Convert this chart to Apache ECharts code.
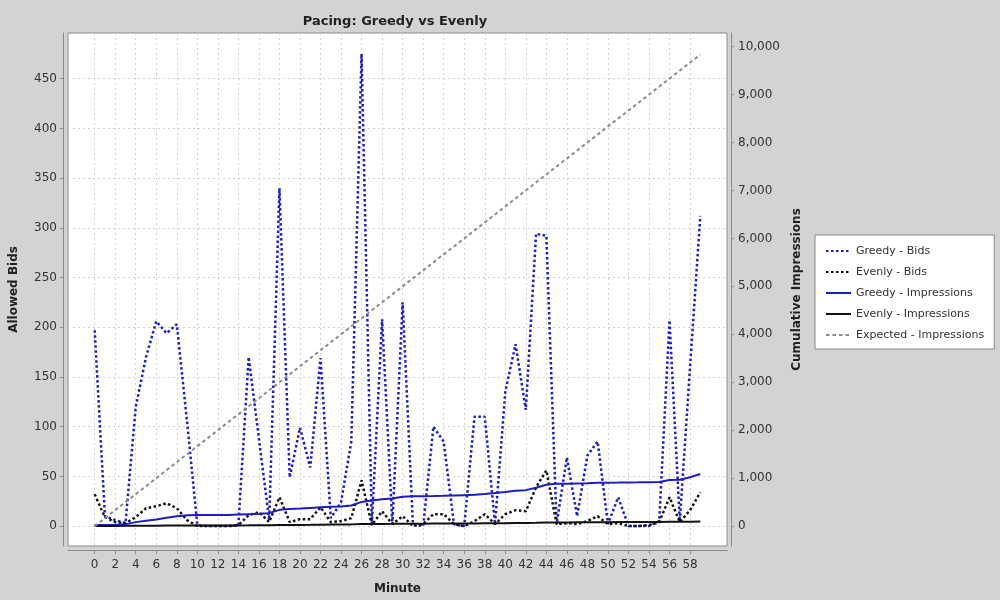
<!DOCTYPE html>
<html>
<head>
<meta charset="utf-8">
<title>Pacing: Greedy vs Evenly</title>
<script src="https://cdn.jsdelivr.net/npm/echarts@6/dist/echarts.min.js"></script>
<style>
  html, body { margin: 0; padding: 0; background: #d3d3d3; }
  #chart { width: 1000px; height: 600px; }
</style>
</head>
<body>
<div id="chart"></div>
<script>
// minute index (x axis)
const minutes = [0, 1, 2, 3, 4, 5, 6, 7, 8, 9, 10, 11, 12, 13, 14, 15, 16, 17, 18, 19,
  20, 21, 22, 23, 24, 25, 26, 27, 28, 29, 30, 31, 32, 33, 34, 35, 36, 37, 38, 39,
  40, 41, 42, 43, 44, 45, 46, 47, 48, 49, 50, 51, 52, 53, 54, 55, 56, 57, 58, 59];

// allowed bids per minute (left axis)
const greedyBids = [197, 10, 6, 3, 120, 170, 206, 194, 203, 105, 1, 0, 0, 0, 1, 170, 88, 6, 340, 49,
  99, 59, 169, 8, 24, 85, 475, 2, 208, 2, 225, 2, 0, 100, 85, 2, 0, 110, 110, 2,
  135, 183, 117, 294, 292, 2, 69, 10, 71, 85, 2, 29, 0, 0, 0, 5, 207, 5, 160, 312];
const evenlyBids = [32, 9, 4, 3, 9, 18, 20, 23, 18, 6, 0, 0, 0, 0, 1, 11, 14, 4, 29, 4,
  7, 7, 19, 4, 5, 8, 46, 1, 15, 2, 10, 0, 2, 12, 12, 2, 0, 5, 12, 2,
  12, 16, 15, 39, 56, 2, 3, 2, 5, 10, 2, 3, 0, 0, 1, 4, 29, 4, 16, 34];

// cumulative impressions (right axis)
const greedyImpr = [21, 22, 24, 41, 83, 111, 138, 173, 207, 228, 230, 230, 232, 234, 242, 249, 256, 270, 339, 359,
  366, 380, 394, 401, 408, 430, 505, 532, 560, 575, 611, 625, 625, 628, 632, 639, 646, 653, 667, 688,
  712, 737, 750, 799, 862, 883, 883, 890, 896, 903, 905, 907, 910, 912, 915, 919, 962, 965, 1020, 1085];
const evenlyImpr = [0, 2, 4, 5, 7, 8, 9, 10, 11, 12, 12, 13, 13, 14, 15, 16, 18, 19, 22, 23,
  24, 26, 30, 32, 34, 36, 42, 44, 46, 47, 49, 50, 51, 52, 53, 54, 55, 56, 58, 59,
  61, 64, 66, 69, 75, 76, 77, 78, 79, 81, 82, 83, 84, 84, 85, 86, 90, 91, 93, 97];
const expectedImpr = [0, 167, 333, 500, 667, 833, 1000, 1167, 1333, 1500, 1667, 1833, 2000, 2167, 2333, 2500, 2667, 2833, 3000, 3167,
  3333, 3500, 3667, 3833, 4000, 4167, 4333, 4500, 4667, 4833, 5000, 5167, 5333, 5500, 5667, 5833, 6000, 6167, 6333, 6500,
  6667, 6833, 7000, 7167, 7333, 7500, 7667, 7833, 8000, 8167, 8333, 8500, 8667, 8833, 9000, 9167, 9333, 9500, 9667, 9833];

// tick labels
const xTicks = [0, 2, 4, 6, 8, 10, 12, 14, 16, 18, 20, 22, 24, 26, 28, 30, 32, 34, 36, 38,
  40, 42, 44, 46, 48, 50, 52, 54, 56, 58];
const bidTicks = [0, 50, 100, 150, 200, 250, 300, 350, 400, 450];
const imprTicks = [0, 1000, 2000, 3000, 4000, 5000, 6000, 7000, 8000, 9000, 10000];

const FONT = 'DejaVu Sans';
const BLUE = '#1c1cc8';
const AXIS_GRAY = '#8a8a8a';

function pairs(ys) {
  return minutes.map(function (m, i) { return [m, ys[i]]; });
}

function lineSeries(name, ys, axis, color, width, dash) {
  return {
    name: name,
    type: 'line',
    yAxisIndex: axis,
    data: pairs(ys),
    symbol: 'none',
    showSymbol: false,
    lineStyle: { color: color, width: width, type: dash },
    itemStyle: { color: color }
  };
}

function ticks(len, values) {
  return { show: true, length: len, customValues: values, lineStyle: { color: AXIS_GRAY } };
}

function setOption(chart) {
  const gridLine = { show: true, lineStyle: { color: '#d3d3d3', width: 1, type: [2, 3] } };
  const labelStyle = { fontFamily: FONT, fontSize: 12, color: '#333' };
  const nameStyle = { fontFamily: FONT, fontSize: 12, fontWeight: 'bold', color: '#222' };
  const axisLine = { show: true, onZero: false, lineStyle: { color: AXIS_GRAY, width: 1 } };

  const option = {
    backgroundColor: '#d3d3d3',
    animation: false,
    graphic: [{
      type: 'text',
      x: 395,
      y: 22,
      style: {
        text: 'Pacing: Greedy vs Evenly',
        fontFamily: FONT,
        fontSize: 13,
        fontWeight: 'bold',
        fill: '#222',
        textAlign: 'center',
        textVerticalAlign: 'middle'
      }
    }],
    grid: {
      left: 63, top: 33, right: 273, bottom: 51,
      show: true, backgroundColor: '#ffffff', borderColor: AXIS_GRAY, borderWidth: 1
    },
    legend: {
      orient: 'vertical',
      left: 815,
      top: 235,
      padding: [9, 10, 7, 10],
      itemWidth: 25,
      itemHeight: 14,
      itemGap: 7,
      selectedMode: false,
      backgroundColor: '#ffffff',
      borderColor: AXIS_GRAY,
      borderWidth: 1,
      // hide the symbol in the middle of the legend line
      itemStyle: { color: 'transparent', borderWidth: 0, opacity: 0 },
      textStyle: { fontFamily: FONT, fontSize: 11, color: '#333', lineHeight: 14 }
    },
    xAxis: {
      type: 'value',
      min: -2.6,
      max: 61.6,
      offset: 4,
      name: 'Minute',
      nameLocation: 'middle',
      nameGap: 33,
      nameTextStyle: nameStyle,
      axisLine: axisLine,
      axisTick: ticks(4, xTicks),
      axisLabel: Object.assign({ customValues: xTicks, margin: 9 }, labelStyle),
      splitLine: gridLine
    },
    yAxis: [{
      type: 'value',
      position: 'left',
      min: -20,
      max: 496,
      offset: 5,
      name: 'Allowed Bids',
      nameLocation: 'middle',
      nameRotate: 90,
      nameGap: 43,
      nameTextStyle: nameStyle,
      axisLine: axisLine,
      axisTick: ticks(3, bidTicks),
      axisLabel: Object.assign({ customValues: bidTicks, margin: 6 }, labelStyle),
      splitLine: gridLine
    }, {
      type: 'value',
      position: 'right',
      min: -415,
      max: 10284,
      offset: 4,
      name: 'Cumulative Impressions',
      nameLocation: 'middle',
      nameRotate: 90,
      nameGap: 57,
      nameTextStyle: nameStyle,
      axisLine: axisLine,
      axisTick: ticks(3, imprTicks),
      axisLabel: Object.assign({
        customValues: imprTicks,
        margin: 7,
        formatter: function (v) { return v.toLocaleString('en-US'); }
      }, labelStyle),
      splitLine: { show: false }
    }],
    series: [
      lineSeries('Greedy - Bids', greedyBids, 0, BLUE, 2.5, [2.5, 2.5]),
      lineSeries('Evenly - Bids', evenlyBids, 0, '#111111', 2.5, [2.5, 2.5]),
      lineSeries('Greedy - Impressions', greedyImpr, 1, BLUE, 2, 'solid'),
      lineSeries('Evenly - Impressions', evenlyImpr, 1, '#111111', 2, 'solid'),
      lineSeries('Expected - Impressions', expectedImpr, 1, '#8c8c8c', 2, [3.5, 3])
    ]
  };
  chart.setOption(option);
}

const chart = echarts.init(document.getElementById('chart'), null, { width: 1000, height: 600 });
setOption(chart);
</script>
</body>
</html>
